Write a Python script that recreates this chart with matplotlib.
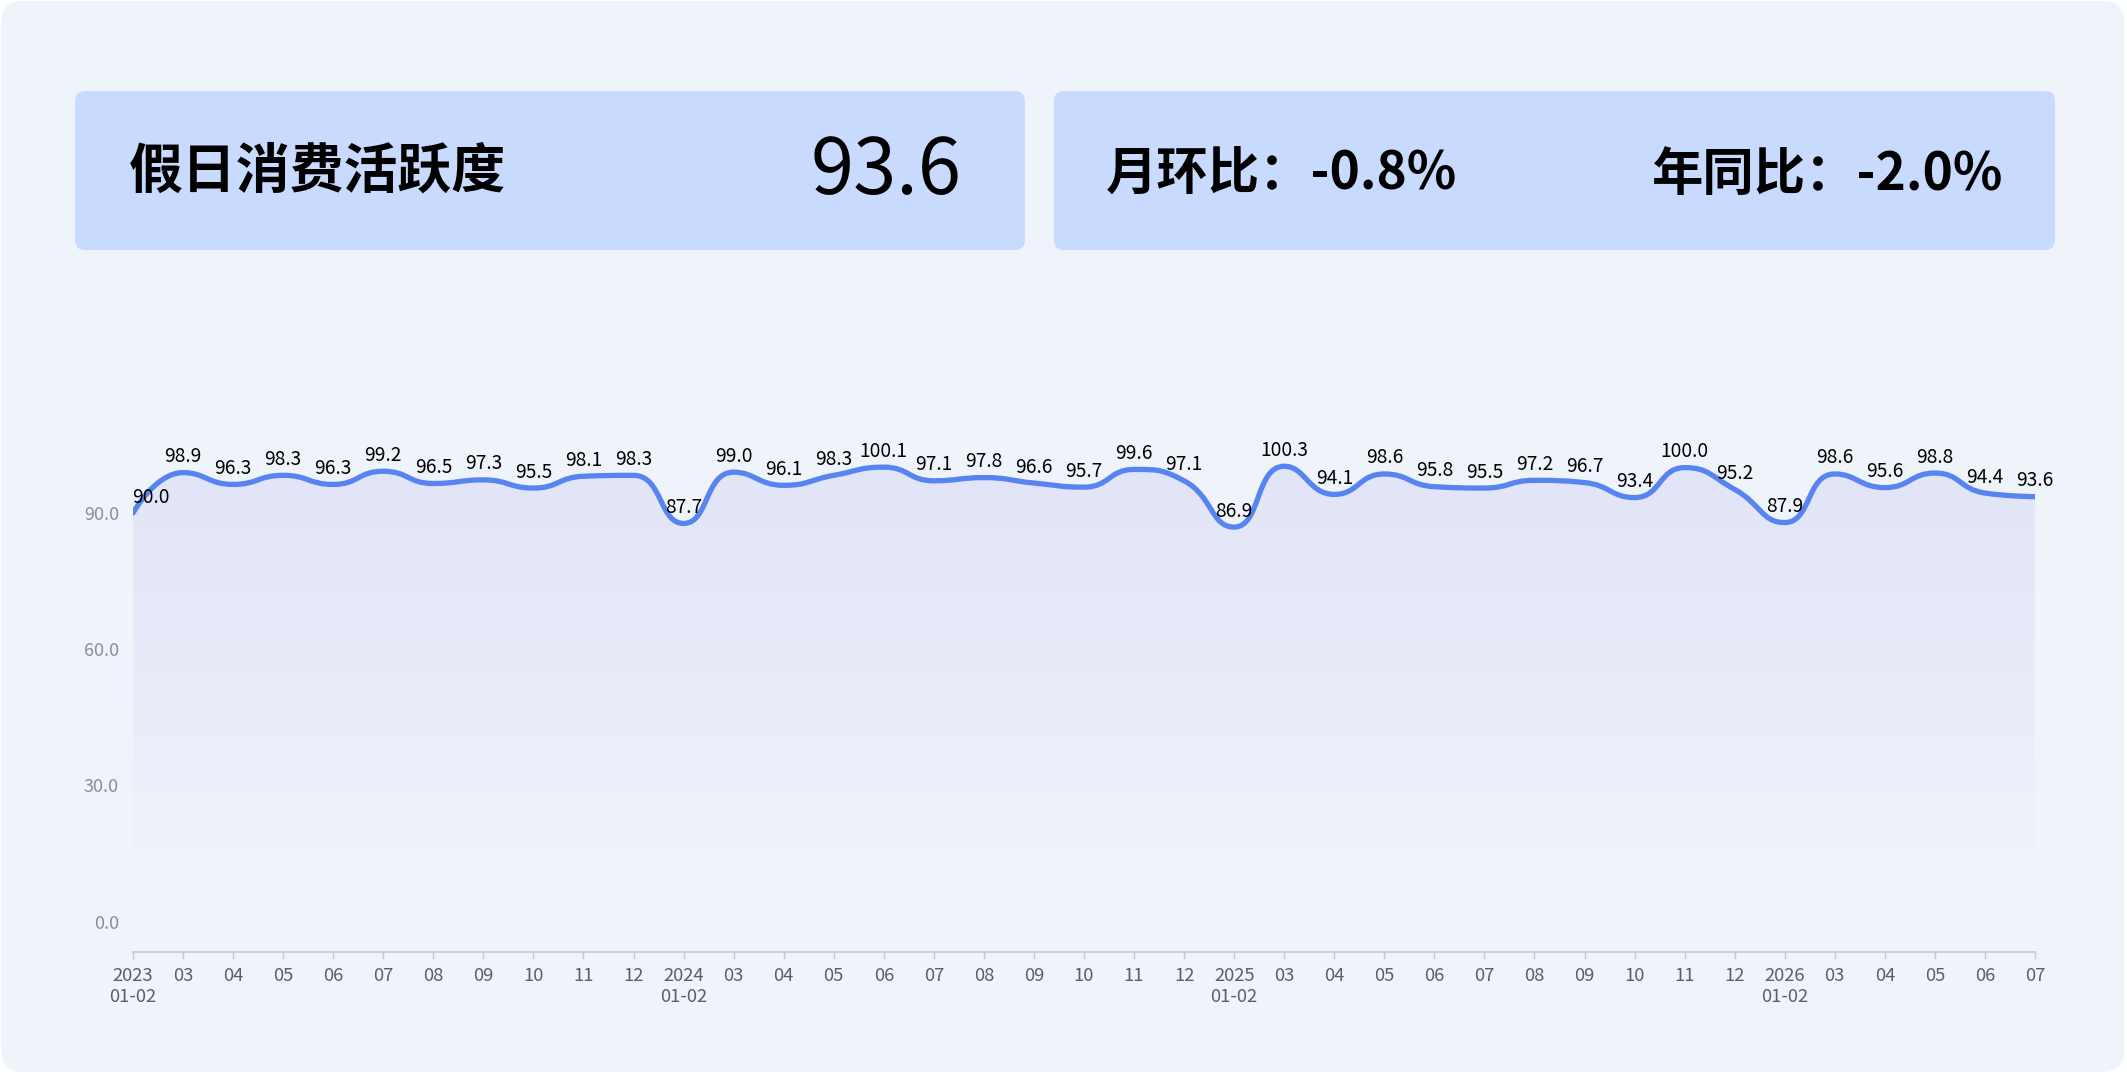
import numpy as np
import matplotlib
matplotlib.use("Agg")
import matplotlib.pyplot as plt
from matplotlib.patches import FancyBboxPatch, PathPatch
from matplotlib.path import Path

plt.rcParams['font.family'] = ['Noto Sans CJK SC', 'DejaVu Sans']

# ---- data ----
years = ["2023", "2024", "2025", "2026"]
months_per_year = [["01-02"] + ["%02d" % m for m in range(3, 13)]] * 3 + [["01-02", "03", "04", "05", "06", "07"]]
values = [90.0, 98.9, 96.3, 98.3, 96.3, 99.2, 96.5, 97.3, 95.5, 98.1, 98.3,
          87.7, 99.0, 96.1, 98.3, 100.1, 97.1, 97.8, 96.6, 95.7, 99.6, 97.1,
          86.9, 100.3, 94.1, 98.6, 95.8, 95.5, 97.2, 96.7, 93.4, 100.0, 95.2,
          87.9, 98.6, 95.6, 98.8, 94.4, 93.6]
y_ticks = [0, 30, 60, 90]
title = "假日消费活跃度"
current_value = "93.6"
mom_text = "月环比：-0.8%"
yoy_text = "年同比：-2.0%"

tick_labels = []
for yr, months in zip(years, months_per_year):
    for m in months:
        tick_labels.append(yr + "\n" + m if m == "01-02" else m)

W, H = 2127, 1075
fig = plt.figure(figsize=(W / 100, H / 100), dpi=100)
fig.patch.set_facecolor("white")

# background layer in pixel coords
bg = fig.add_axes([0, 0, 1, 1])
bg.set_xlim(0, W)
bg.set_ylim(H, 0)
bg.axis("off")
bg.add_patch(FancyBboxPatch((1, 1), W - 4, H - 4, boxstyle="round,pad=0,rounding_size=22",
                            facecolor="#EFF3FA", edgecolor="none"))
card_color = "#C8DAFD"
bg.add_patch(FancyBboxPatch((75, 91), 950, 159, boxstyle="round,pad=0,rounding_size=10",
                            facecolor=card_color, edgecolor="none"))
bg.add_patch(FancyBboxPatch((1054, 91), 1001, 159, boxstyle="round,pad=0,rounding_size=10",
                            facecolor=card_color, edgecolor="none"))
bg.text(129, 172, title, fontsize=38.8, fontweight="bold", va="center", ha="left", color="black")
bg.text(962, 172, current_value, fontsize=56, fontweight="medium", va="center", ha="right", color="black")
bg.text(1106, 174, mom_text, fontsize=37, fontweight="bold", va="center", ha="left", color="black")
bg.text(2002, 174, yoy_text, fontsize=37, fontweight="bold", va="center", ha="right", color="black")

# chart axes
left, right = 133, 2035
top, bottom = 422.2, 951.7
ax = fig.add_axes([left / W, (H - bottom) / H, (right - left) / W, (bottom - top) / H])
ax.set_facecolor("none")
n = len(values)
x = np.arange(n)
ax.set_xlim(0, n - 1)
ax.set_ylim(-6.6, 110)

# smooth bezier path (echarts-like) computed in pixel space
pts = ax.transData.transform(np.column_stack([x, values]))
smooth = 0.5
verts = [tuple(pts[0])]
codes = [Path.MOVETO]
cp0 = pts[0].copy()
for i in range(1, n):
    p = pts[i]
    prev = pts[i - 1]
    if i == n - 1:
        cp1 = p.copy()
        nxt_cp0 = p.copy()
    else:
        nxt = pts[i + 1]
        v = nxt - prev
        lp = np.hypot(*(p - prev))
        ln = np.hypot(*(nxt - p))
        r = ln / (ln + lp)
        nc = p + v * smooth * r
        nc = np.minimum(nc, np.maximum(nxt, p))
        nc = np.maximum(nc, np.minimum(nxt, p))
        v = nc - p
        cp1 = p - v * lp / ln
        cp1 = np.minimum(cp1, np.maximum(prev, p))
        cp1 = np.maximum(cp1, np.minimum(prev, p))
        v = p - cp1
        nxt_cp0 = p + v * ln / lp
    verts += [tuple(cp0), tuple(cp1), tuple(p)]
    codes += [Path.CURVE4] * 3
    cp0 = nxt_cp0
inv = ax.transData.inverted()
data_verts = inv.transform(np.array(verts))
line_path = Path(data_verts, codes)

fill_verts = np.vstack([data_verts, [[n - 1, 0], [0, 0], [0, 0]]])
fill_codes = codes + [Path.LINETO, Path.LINETO, Path.CLOSEPOLY]
fill_patch = PathPatch(Path(fill_verts, fill_codes), facecolor="none", edgecolor="none")
ax.add_patch(fill_patch)

ymax = max(values)
grad = np.zeros((200, 2, 4))
grad[..., 0] = 0.86
grad[..., 1] = 0.875
grad[..., 2] = 0.965
grad[..., 3] = np.clip(np.linspace(0.72, -0.08, 200), 0, 1)[:, None]
im = ax.imshow(grad, extent=[0, n - 1, 0, ymax], origin="upper", aspect="auto", zorder=1)
im.set_clip_path(fill_patch)

ax.add_patch(PathPatch(line_path, facecolor="none", edgecolor="#5884F2", lw=3.8,
                       capstyle="round", joinstyle="round", zorder=3))

for i, v in enumerate(values):
    dx = 13 if i == 0 else 0
    ax.annotate("%.1f" % v, (i, v), xytext=(dx, 11.5), textcoords="offset points",
                ha="center", va="center", fontsize=13.8, color="black", zorder=4)

ax.set_xticks(x)
ax.set_xticklabels(tick_labels)
ax.set_yticks(y_ticks)
ax.set_yticklabels(["%.1f" % t for t in y_ticks])
ax.tick_params(axis="y", length=0, pad=10, labelsize=13, labelcolor="#8A8E99")
ax.tick_params(axis="x", length=5, width=1, color="#C5C8CF", pad=6, labelsize=13.3, labelcolor="#5A5E66")
for s in ["top", "right", "left"]:
    ax.spines[s].set_visible(False)
ax.spines["bottom"].set_color("#C5C8CF")
ax.spines["bottom"].set_linewidth(1.2)

fig.savefig("out.png", dpi=100)
